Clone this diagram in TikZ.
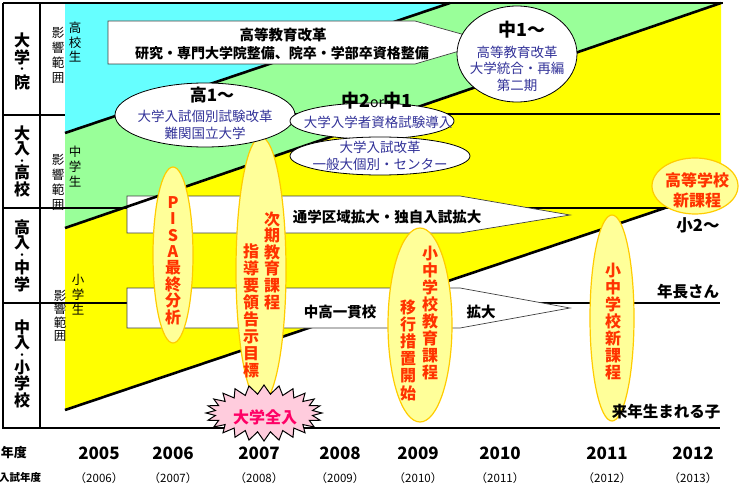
\documentclass[tikz,border=0pt]{standalone}
\usepackage{fontspec}
\setmainfont{Noto Sans CJK JP}
\usetikzlibrary{shapes.geometric,shapes.symbols}
\definecolor{cyanbg}{HTML}{66FFFF}
\definecolor{greenbg}{HTML}{99FF99}
\definecolor{yellowbg}{HTML}{FFFF00}
\definecolor{ellfill}{HTML}{FFFF99}
\definecolor{elldraw}{HTML}{FFCC00}
\definecolor{redor}{HTML}{FF3300}
\definecolor{navytxt}{HTML}{333399}
\definecolor{pinkfill}{HTML}{FFCCDD}
\definecolor{magtxt}{HTML}{FF0066}
\newcommand\fs[2]{\fontsize{#1}{#2}\selectfont}
\newcommand\sdot{{\fs{9}{17}・}}
\begin{document}
\begin{tikzpicture}[x=1pt,y=-1pt,
  frameline/.style={line width=2.6pt,black},
  rowlab/.style={font=\fs{16}{17}\bfseries,align=center,inner sep=0pt},
  infl/.style={font=\fs{12.5}{15},align=center,inner sep=0pt},
  arrowbox/.style={draw=black!75,line width=0.7pt,fill=white},
  arrowtxt/.style={font=\fs{14.5}{17}\bfseries,align=center,inner sep=0pt},
  wellipse/.style={ellipse,draw=black,line width=0.8pt,fill=white,inner sep=0pt},
  headtxt/.style={font=\fs{18}{20}\bfseries,inner sep=0pt},
  bluetxt/.style={font=\fs{13.5}{16.5},text=navytxt,align=center,inner sep=0pt},
  yellipse/.style={ellipse,draw=elldraw,line width=1.2pt,fill=ellfill,inner sep=0pt},
  redtxt/.style={font=\fs{16}{17}\bfseries,text=redor,align=center,inner sep=0pt},
  sidetxt/.style={font=\fs{15.5}{17}\bfseries,inner sep=0pt},
  yeartxt/.style={font=\fs{17}{18}\bfseries,inner sep=0pt},
  paretxt/.style={font=\fs{11.5}{12},inner sep=0pt}]
\useasboundingbox (0,0) rectangle (740,487);
\fill[white] (0,0) rectangle (740,487);
% coloured bands
\fill[yellowbg] (721,3) -- (721,208) -- (665,208) -- (65,410) -- (65,228) -- cycle;
\fill[cyanbg] (65,3) -- (450,3) -- (65,133) -- cycle;
\fill[greenbg] (450,3) -- (721,3) -- (65,228) -- (65,133) -- cycle;
% frame and row lines
\draw[frameline] (3,3) -- (723,3);
\draw[frameline] (3,3) -- (3,428) -- (720,428);
\draw[frameline] (40,3) -- (40,428);
\draw[frameline] (3,115) -- (65,115);
\draw[frameline] (118,114) -- (720,114);
\draw[frameline] (3,208) -- (720,208);
\draw[frameline] (3,303) -- (720,303);
% diagonals under arrows
\draw[frameline] (65,133) -- (450,3);
\draw[frameline] (65,410) -- (665,208);
% arrows
\draw[arrowbox] (108,21) -- (415,21) -- (490,42) -- (415,64) -- (108,64) -- cycle;
\draw[arrowbox] (127,196) -- (460,196) -- (570,215) -- (460,233) -- (127,233) -- cycle;
\draw[arrowbox] (127,288) -- (460,288) -- (570,308) -- (460,328) -- (127,328) -- cycle;
\node[arrowtxt] (a0a) at (283,35) {高等教育改革};
\node[arrowtxt,font=\fs{14}{16}\bfseries] (a0b) at (282,53) {研究・専門大学院整備、院卒・学部卒資格整備};
\node[arrowtxt] (a1) at (387,217) {通学区域拡大・独自入試拡大};
\node[arrowtxt] (a2) at (340,312) {中高一貫校};
\node[arrowtxt] (a2b) at (481,312) {拡大};
% diagonal over arrow
\draw[frameline] (65,228) -- (721,3);
% left column labels
\node[rowlab] (r1) at (22,61) {大\\学\\[-7.2pt]\sdot\\[-1.8pt]院};
\node[rowlab] (r2) at (22,161.5) {大\\[-2pt]入\\[-7.2pt]\sdot\\[-2.8pt]高\\校};
\node[rowlab] (r3) at (22,256) {高\\[-2pt]入\\[-7.2pt]\sdot\\[-2.6pt]中\\学};
\node[rowlab] (r4) at (22,363.5) {中\\[-2pt]入\\[-6.7pt]\sdot\\[-2.3pt]小\\[-1pt]学\\校};
\node[infl] (i1) at (58,55) {影\\響\\範\\囲};
\node[infl,font=\fs{12.5}{14.5}] (s1) at (75,42.5) {高\\校\\生};
\node[infl] (i2) at (58,182) {影\\響\\範\\囲};
\node[infl] (s2) at (75,167) {中\\学\\生};
\node[infl,font=\fs{12.5}{13.5}] (i3) at (60,316) {影\\響\\範\\囲};
\node[infl] (s3) at (78,295) {小\\学\\生};
% yellow ellipses
\node[yellipse,minimum width=40pt,minimum height=176pt] (pisa) at (173,255) {};
\node[redtxt,font=\fs{16}{16.4}\bfseries] (pisat) at (173,260.5) {P\\I\\S\\A\\最\\終\\分\\析};
\node[yellipse,minimum width=50pt,minimum height=266pt] (jiki) at (261,270) {};
\node[redtxt,font=\fs{16}{16.6}\bfseries] (jikit) at (272,260.5) {次\\期\\教\\育\\課\\程};
\node[redtxt,font=\fs{16}{17.1}\bfseries] (shidot) at (251,311) {指\\導\\要\\領\\告\\示\\目\\標};
\node[yellipse,minimum width=64pt,minimum height=194pt] (ikou) at (420,325) {};
\node[redtxt,font=\fs{16}{17.1}\bfseries] (ikout1) at (430,313) {小\\中\\学\\校\\教\\育\\課\\程};
\node[redtxt,font=\fs{16}{17.2}\bfseries] (ikout2) at (408,350) {移\\行\\措\\置\\開\\始};
\node[yellipse,minimum width=44pt,minimum height=206pt] (shin) at (612,318) {};
\node[redtxt,font=\fs{16}{17}\bfseries] (shint) at (613,322) {小\\中\\学\\校\\新\\課\\程};
\node[yellipse,minimum width=86pt,minimum height=56pt] (koko) at (695,186) {};
\node[redtxt,font=\fs{16}{20}\bfseries] (kokot) at (697,190) {高等学校\\新課程};
% white ellipses
\node[wellipse,minimum width=180pt,minimum height=64pt] (e1) at (205,115) {};
\node[headtxt,font=\fs{17}{20}\bfseries] (e1h) at (212,95) {高1〜};
\node[bluetxt] (e1t) at (205,125) {大学入試個別試験改革\\難関国立大学};
\node[wellipse,minimum width=164pt,minimum height=36pt] (e2) at (372,121) {};
\node[wellipse,minimum width=180pt,minimum height=38pt] (e3) at (380,156) {};
\node[headtxt] (e2h) at (377,101) {中2{\mdseries\fs{14}{16}or}中1};
\node[bluetxt] (e2t) at (378,122) {大学入学者資格試験導入};
\node[bluetxt] (e3t) at (380,156) {大学入試改革\\一般大個別・センター};
\node[wellipse,minimum width=120pt,minimum height=96pt] (e4) at (517,54) {};
\node[headtxt] (e4h) at (522,30) {中1〜};
\node[bluetxt] (e4t) at (517,68.5) {高等教育改革\\大学統合・再編\\第二期};
% starburst
\node[starburst,starburst points=24,starburst point height=9pt,random starburst=0,
  minimum width=116pt,minimum height=56pt,draw=black,line width=1pt,fill=pinkfill,inner sep=0pt] (burst) at (264,413) {};
\node[font=\fs{16}{18}\bfseries,text=magtxt,inner sep=0pt] (burstt) at (265,417) {大学全入};
% right labels
\node[sidetxt,font=\fs{16.5}{18}\bfseries] (k2) at (698,225) {小2〜};
\node[sidetxt] (nencho) at (688,292) {年長さん};
\node[sidetxt] (rainen) at (666,412) {来年生まれる子};
% axis
\node[font=\fs{13}{14}\bfseries,inner sep=0pt] (nendo) at (14,453) {年度};
\node[font=\fs{10.5}{11}\bfseries,inner sep=0pt] (nyushi) at (20,478) {入試年度};
\foreach \x/\y [count=\i] in {99/2005,173/2006,259/2007,340/2008,418/2009,500/2010,607/2011,693/2012}{
  \node[yeartxt] (y\i) at (\x,453) {\y};
  \pgfmathtruncatemacro\nx{\y+1}
  \node[paretxt] (p\i) at (\x,478) {（\nx）};
}
\end{tikzpicture}
\end{document}
